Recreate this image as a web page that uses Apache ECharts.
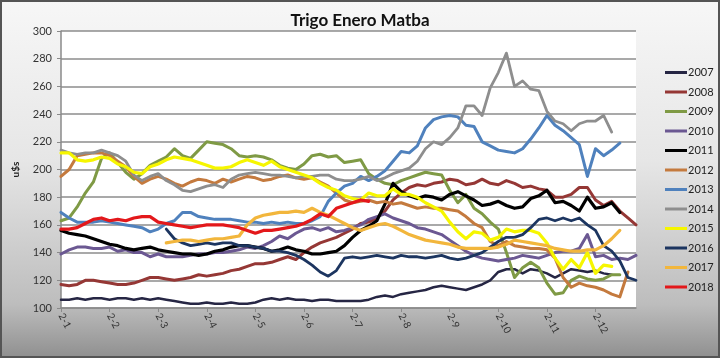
<!DOCTYPE html>
<html>
<head>
<meta charset="utf-8">
<script src="https://cdn.jsdelivr.net/npm/echarts@6/dist/echarts.min.js"></script>
<style>
html,body{margin:0;padding:0;background:#fff;}
#c{width:720px;height:358px;}
</style>
</head>
<body>
<div id="c"></div>
<script>
// ---- data ----
var monthLabels = ['2-1','2-2','2-3','2-4','2-5','2-6','2-7','2-8','2-9','2-10','2-11','2-12'];
var pointsPerMonth = 6;
var seriesNames = ['2007','2008','2009','2010','2011','2012','2013','2014','2015','2016','2017','2018'];

var s2007 = [106,106,107,106,107,107,106,107,107,106,107,106,107,106,105,104,103,103,104,103,103,104,103,103,104,106,107,106,107,106,106,105,106,106,105,105,105,105,106,108,109,108,110,111,112,113,115,116,115,114,113,115,117,120,126,128,128,125,128,127,125,122,125,128,127,126,127,125,124];
var s2008 = [117,116,117,120,120,119,118,117,117,118,120,122,122,121,120,121,122,124,123,124,125,127,128,130,132,132,133,135,137,135,140,144,147,149,151,154,157,161,162,165,170,178,183,187,189,188,190,191,193,192,189,190,193,190,189,192,190,187,188,186,185,180,180,182,187,187,178,174,177,170,165,160];
var s2009 = [163,165,173,183,191,208,212,205,198,193,197,203,206,209,215,210,208,214,220,219,218,215,210,209,210,209,207,203,201,200,204,210,211,209,210,205,206,207,197,193,190,189,192,194,196,198,197,196,185,176,182,172,168,162,157,140,122,129,133,129,118,110,111,120,123,121,120,121,124,124];
var s2010 = [139,142,144,144,143,143,144,141,142,140,140,137,139,137,137,137,138,139,139,140,140,141,142,144,143,145,148,152,150,154,157,158,156,158,155,156,158,160,164,166,168,165,163,161,158,157,155,153,149,145,141,138,136,135,134,135,136,138,137,136,138,140,141,141,143,153,137,138,135,136,135,138];
var s2011 = [156,154,153,152,150,148,146,145,143,142,143,144,142,141,140,139,139,138,139,141,142,144,145,145,144,143,141,142,144,142,141,139,139,140,141,145,151,156,159,163,175,190,184,181,179,181,180,178,182,184,181,178,174,175,177,174,172,173,179,181,185,176,177,174,170,180,172,173,176,169];
var s2012 = [195,200,210,211,212,212,210,206,202,195,190,193,195,193,190,188,191,193,192,190,193,191,193,195,194,192,193,195,196,194,193,194,191,188,183,178,176,177,178,176,177,175,176,174,172,173,172,172,171,170,166,161,158,148,145,148,145,144,143,143,142,136,122,115,118,116,115,113,110,108,126];
var s2013 = [169,165,162,162,162,163,162,161,160,159,158,155,157,161,163,169,169,166,165,164,164,164,163,162,162,161,162,161,162,161,161,163,166,177,183,188,190,195,192,195,199,206,213,212,217,230,236,238,239,238,232,231,220,217,214,213,212,215,222,230,239,232,228,223,218,195,215,210,214,219];
var s2014 = [214,212,211,212,212,214,212,210,206,196,192,195,197,192,189,185,184,186,188,189,187,193,196,197,198,197,196,196,195,194,195,195,196,196,193,192,192,193,195,192,194,197,199,201,206,215,220,218,223,230,246,246,239,259,270,284,260,264,258,257,242,235,233,228,233,235,235,239,227];
var s2015 = [212,212,207,206,207,209,208,204,202,198,197,202,204,207,209,208,207,205,203,201,201,202,205,207,205,203,206,202,200,198,196,194,190,187,185,181,179,178,183,181,181,186,182,182,180,176,173,170,162,155,150,155,154,149,151,157,155,156,156,154,147,136,128,135,129,140,125,131,130];
var s2016 = [null,null,null,null,null,null,null,null,null,null,null,null,null,157,150,147,145,146,147,146,147,147,145,145,144,143,141,141,140,138,135,131,126,123,127,136,137,136,137,138,137,136,138,137,137,136,137,138,136,135,136,138,140,144,148,151,151,153,158,164,165,163,165,163,165,160,156,145,141,134,122,120];
var s2017 = [null,null,null,null,null,null,null,null,null,null,null,null,null,147,148,149,149,148,149,150,150,151,152,160,165,167,168,169,169,170,169,172,169,167,164,161,158,156,158,160,161,159,156,153,151,149,148,147,146,144,143,143,143,143,144,146,149,148,147,146,145,143,142,141,141,142,142,145,150,156];
var s2018 = [157,157,158,161,164,165,163,164,163,165,166,166,162,161,160,159,158,159,160,160,160,159,158,156,154,156,156,157,158,159,161,164,168,166,172,174,176,178,177];

var seriesData = [s2007,s2008,s2009,s2010,s2011,s2012,s2013,s2014,s2015,s2016,s2017,s2018];
var seriesColors = ['#262644','#953735','#7F9A45','#6B5892','#000000','#C47A3E','#4F81BD','#8E8E8E','#F6F600','#1C3560','#F2B63C','#E3181B'];
var seriesWidths = [2.5,3,3,3,3.2,3,3,2.8,3.2,2.8,3.2,3.2];

// ---- build ----
var cats = [];
for (var m = 0; m < monthLabels.length; m++) {
  for (var k = 0; k < pointsPerMonth; k++) {
    cats.push(k === 0 ? monthLabels[m] : '');
  }
}

var series = seriesNames.map(function (n, i) {
  return {
    name: n,
    type: 'line',
    data: seriesData[i],
    symbol: 'none',
    showSymbol: false,
    connectNulls: false,
    animation: false,
    lineStyle: { color: seriesColors[i], width: seriesWidths[i], join: 'round', cap: 'round' },
    itemStyle: { color: seriesColors[i] }
  };
});

var chart = echarts.init(document.getElementById('c'), null, { renderer: 'canvas' });
chart.setOption({
  animation: false,
  backgroundColor: {
    type: 'linear', x: 0, y: 0, x2: 0, y2: 1,
    colorStops: [
      { offset: 0, color: '#f7f7f7' },
      { offset: 0.45, color: '#e6e6e6' },
      { offset: 0.85, color: '#bdbdbd' },
      { offset: 1, color: '#8f8f8f' }
    ]
  },
  title: {
    text: 'Trigo Enero Matba',
    left: 'center',
    top: 7,
    textStyle: { fontFamily: 'Lato', fontWeight: 'bold', fontSize: 17, color: '#111' }
  },
  legend: {
    orient: 'vertical',
    left: 660,
    top: 62,
    itemWidth: 22,
    itemHeight: 3,
    itemGap: 8.5,
    icon: 'rect',
    textStyle: { fontFamily: 'Lato', fontSize: 11, color: '#222', padding: [0,0,0,-4] },
    data: seriesNames
  },
  grid: {
    left: 61, right: 84, top: 31, bottom: 50,
    show: true, backgroundColor: '#ffffff', borderWidth: 0
  },
  xAxis: {
    type: 'category',
    data: cats,
    boundaryGap: false,
    axisLine: { lineStyle: { color: '#8a8a8a', width: 1.5 } },
    axisTick: { show: true, interval: pointsPerMonth - 1, length: 4, lineStyle: { color: '#8a8a8a' } },
    axisLabel: {
      interval: pointsPerMonth - 1,
      rotate: -62,
      fontFamily: 'Lato',
      fontSize: 10,
      color: '#333',
      margin: 6
    },
    splitLine: { show: false }
  },
  yAxis: {
    type: 'value',
    min: 100, max: 300, interval: 20,
    name: 'u$s',
    nameLocation: 'middle',
    nameRotate: 90,
    nameGap: 40,
    nameTextStyle: { fontFamily: 'Lato', fontWeight: 'bold', fontSize: 10, color: '#222' },
    axisLine: { show: true, lineStyle: { color: '#8a8a8a', width: 1.5 } },
    axisTick: { show: true, length: 4, lineStyle: { color: '#8a8a8a' } },
    axisLabel: { fontFamily: 'Lato', fontSize: 11, color: '#333', margin: 9 },
    splitLine: { lineStyle: { color: '#8c8c8c', width: 1.5 } }
  },
  graphic: [{
    type: 'rect',
    shape: { x: 1, y: 1, width: 718, height: 356 },
    style: { fill: 'none', stroke: '#555555', lineWidth: 2 },
    silent: true,
    z: 100
  }],
  series: series
});
</script>
</body>
</html>
